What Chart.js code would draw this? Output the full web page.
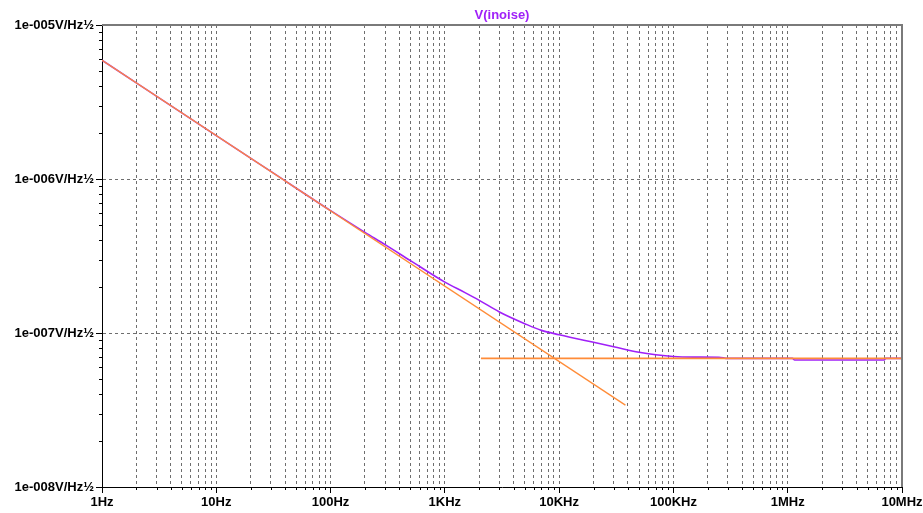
<!DOCTYPE html>
<html>
<head>
<meta charset="utf-8">
<title>V(inoise)</title>
<script src="https://cdn.jsdelivr.net/npm/chart.js@4/dist/chart.umd.min.js"></script>
<style>
  html, body { margin: 0; padding: 0; background: #ffffff; }
  #wrap { width: 923px; height: 513px; }
</style>
</head>
<body>
<div id="wrap"><canvas id="c" width="923" height="513"></canvas></div>
<script>
// Noise spectral density, V/sqrt(Hz) against frequency in Hz
const traceName = 'V(inoise)';

// total output noise
const totalFreq  = [1, 10, 30, 100, 200, 300, 500, 1000, 1500, 2000, 3000, 5000, 7000, 10000, 20000,
                    30000, 50000, 70000, 100000, 150000, 250000, 300000, 1.1e6, 1.15e6, 7e6, 7.2e6, 1e7];
const totalNoise = [5.9e-6, 1.913e-6, 1.12e-6, 6.23e-7, 4.5e-7, 3.75e-7, 2.95e-7, 2.14e-7, 1.83e-7, 1.63e-7,
                    1.37e-7, 1.15e-7, 1.04e-7, 9.75e-8, 8.7e-8, 8.15e-8, 7.5e-8, 7.22e-8, 7.03e-8, 6.97e-8,
                    6.95e-8, 6.84e-8, 6.84e-8, 6.68e-8, 6.68e-8, 6.84e-8, 6.84e-8];

// 1/f asymptote
const flickerFreq  = [1, 38000];
const flickerNoise = [5.9e-6, 3.4e-8];

// white-noise floor
const floorFreq  = [2070, 1e7];
const floorNoise = [6.84e-8, 6.84e-8];

// axis decades and their labels
const xDecades = [1, 10, 100, 1000, 10000, 100000, 1e6, 1e7];
const xTickLabels = ['1Hz', '10Hz', '100Hz', '1KHz', '10KHz', '100KHz', '1MHz', '10MHz'];
const yDecades = [1e-8, 1e-7, 1e-6, 1e-5];
const yTickLabels = ['1e-008V/Hz\u00BD', '1e-007V/Hz\u00BD', '1e-006V/Hz\u00BD', '1e-005V/Hz\u00BD'];
const minorSteps = [1, 2, 3, 4, 5, 6, 7, 8, 9];

const PURPLE = '#a020f8';
const ORANGE = '#ff8c38';
const GRID = '#6e6e6e';
const FONT = '"Liberation Sans", Arial, sans-serif';

const pts = (xs, ys) => xs.map((x, i) => ({ x, y: ys[i] }));

function fullTicks(decades) {
  const out = [];
  decades.forEach((d, i) => {
    if (i === decades.length - 1) { out.push({ value: d }); return; }
    minorSteps.forEach(m => out.push({ value: d * m }));
  });
  return out;
}
const isDecade = v => {
  const e = Math.log10(v);
  return Math.abs(e - Math.round(e)) < 1e-9;
};
const decadeIndex = (v, decades) => decades.findIndex(d => Math.abs(Math.log10(d) - Math.log10(v)) < 1e-9);

// frame, short minor ticks and the trace title
const framePlugin = {
  id: 'frame',
  afterDraw(chart) {
    const { ctx, chartArea: a, scales: { x, y } } = chart;
    ctx.save();
    ctx.strokeStyle = '#7a7a7a';
    ctx.lineWidth = 2;
    ctx.beginPath();
    ctx.moveTo(a.left, a.top);
    ctx.lineTo(a.right, a.top);
    ctx.lineTo(a.right, a.bottom);
    ctx.stroke();

    ctx.strokeStyle = '#000';
    ctx.lineWidth = 1;
    ctx.beginPath();
    x.ticks.forEach(t => {
      if (isDecade(t.value)) return;
      const px = Math.round(x.getPixelForValue(t.value)) + 0.5;
      ctx.moveTo(px, a.bottom);
      ctx.lineTo(px, a.bottom + 3);
    });
    y.ticks.forEach(t => {
      if (isDecade(t.value)) return;
      const py = Math.round(y.getPixelForValue(t.value)) + 0.5;
      ctx.moveTo(a.left, py);
      ctx.lineTo(a.left - 3, py);
    });
    ctx.stroke();

    ctx.fillStyle = PURPLE;
    ctx.font = 'bold 13px ' + FONT;
    ctx.textAlign = 'center';
    ctx.textBaseline = 'middle';
    ctx.fillText(traceName, (a.left + a.right) / 2, 15);
    ctx.restore();
  }
};

new Chart(document.getElementById('c'), {
  type: 'line',
  data: {
    datasets: [
      { label: 'flicker', data: pts(flickerFreq, flickerNoise), borderColor: ORANGE, borderWidth: 1.3, pointRadius: 0, order: 0 },
      { label: 'floor', data: pts(floorFreq, floorNoise), borderColor: ORANGE, borderWidth: 1.6, pointRadius: 0, order: 1 },
      { label: traceName, data: pts(totalFreq, totalNoise), borderColor: PURPLE, borderWidth: 1.6, pointRadius: 0,
        cubicInterpolationMode: 'monotone', order: 2 }
    ]
  },
  plugins: [framePlugin],
  options: {
    responsive: false,
    animation: false,
    events: [],
    layout: { padding: { top: 25, right: 21, left: 0, bottom: 0 } },
    plugins: { legend: { display: false }, tooltip: { enabled: false }, title: { display: false } },
    elements: { line: { tension: 0 } },
    scales: {
      x: {
        type: 'logarithmic',
        min: 1, max: 1e7,
        afterBuildTicks: s => { s.ticks = fullTicks(xDecades); },
        afterFit: s => { s.height = 26; s.paddingLeft = 0; s.paddingRight = 0; },
        grid: {
          color: GRID,
          lineWidth: 1,
          tickLength: 6,
          tickColor: c => (c.tick && isDecade(c.tick.value)) ? '#000' : 'rgba(0,0,0,0)'
        },
        border: { display: true, color: '#000', width: 1, dash: [3, 3] },
        ticks: {
          autoSkip: false, maxRotation: 0, padding: 2, color: '#000',
          font: { family: FONT, size: 13, weight: 'bold' },
          callback: v => { const i = decadeIndex(v, xDecades); return i >= 0 ? xTickLabels[i] : ''; }
        }
      },
      y: {
        type: 'logarithmic',
        min: 1e-8, max: 1e-5,
        afterBuildTicks: s => { s.ticks = fullTicks(yDecades); },
        afterFit: s => { s.width = 102; s.paddingTop = 0; s.paddingBottom = 0; },
        grid: {
          color: c => (c.tick && isDecade(c.tick.value)) ? GRID : 'rgba(0,0,0,0)',
          lineWidth: 1,
          tickLength: 6,
          tickColor: c => (c.tick && isDecade(c.tick.value)) ? '#000' : 'rgba(0,0,0,0)'
        },
        border: { display: true, color: '#000', width: 1, dash: [3, 3] },
        ticks: {
          autoSkip: false, padding: 2, color: '#000',
          font: { family: FONT, size: 13, weight: 'bold' },
          callback: v => { const i = decadeIndex(v, yDecades); return i >= 0 ? yTickLabels[i] : ''; }
        }
      }
    }
  }
});
</script>
</body>
</html>
